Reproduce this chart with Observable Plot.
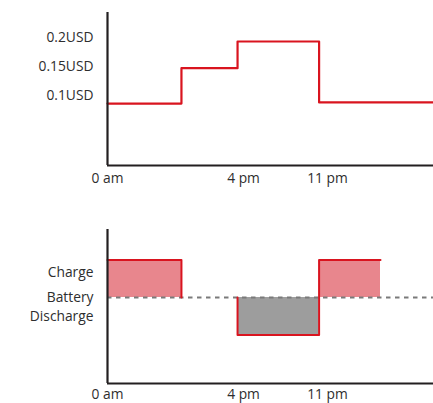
<!DOCTYPE html>
<html>
<head>
<meta charset="utf-8">
<script src="https://cdn.jsdelivr.net/npm/d3@7"></script>
<script src="https://cdn.jsdelivr.net/npm/@observablehq/plot@0.6"></script>
<style>
  html, body { margin: 0; padding: 0; background: #fff; }
  #chart svg { display: block; }
</style>
</head>
<body>
<div id="chart"></div>
<script>
// Time axis (hours of day, schematic)
const timeTicks = [0, 16, 23];
const timeLabels = ["0 am", "4 pm", "11 pm"];

// Electricity price (step line)
const priceTime = [0, 8.7, 15.3, 22.3, 24];
const priceValue = [0.086, 0.147, 0.193, 0.088, 0.088];
const priceTicks = [0.1, 0.15, 0.2];
const priceLabels = ["0.1USD", "0.15USD", "0.2USD"];

// Battery schedule
const battStart = [0, 15.3, 22.3];
const battEnd = [8.7, 22.3, 23.5];
const battLevel = [1, -1, 1];
const battTicks = [0.65, 0, -0.5];
const battLabels = ["Charge", "Battery", "Discharge"];

const RED = "#d9141f";
const PINK = "#e8868d";
const GRAY = "#9d9d9d";
const AXIS = "#231f20";

const xOpts = {
  type: "linear",
  domain: [0, 16, 23, 24],
  range: [107, 243, 327, 433],
  ticks: timeTicks,
  tickFormat: d => timeLabels[timeTicks.indexOf(d)],
  tickSize: 0,
  label: null
};
const chartStyle = {fontFamily: "'Open Sans', sans-serif", fontSize: "13.8px", color: "#2e2e2e", background: "#fff"};

// Top chart
const price = priceTime.map((t, i) => ({t, v: priceValue[i]}));
const yTopDomain = [-0.0207, 0.243];
const priceChart = Plot.plot({
  width: 433, height: 200,
  marginLeft: 107, marginRight: 0, marginTop: 12, marginBottom: 35,
  style: chartStyle,
  x: {...xOpts, tickPadding: 8},
  y: {domain: yTopDomain, ticks: priceTicks, tickFormat: d => priceLabels[priceTicks.indexOf(d)], tickSize: 0, tickPadding: 14, label: null},
  marks: [
    Plot.line(price, {x: "t", y: "v", curve: "step-after", stroke: RED, strokeWidth: 2.2}),
    Plot.ruleX([0], {stroke: AXIS, strokeWidth: 2.2}),
    Plot.ruleY([yTopDomain[0]], {stroke: AXIS, strokeWidth: 2.2})
  ]
});

// Bottom chart
const bars = battStart.map((s, i) => ({x1: s, x2: battEnd[i], level: battLevel[i]}));
const outline = [];
outline.push({x: bars[0].x1, y: bars[0].level, g: 0}, {x: bars[0].x2, y: bars[0].level, g: 0}, {x: bars[0].x2, y: 0, g: 0});
outline.push({x: bars[1].x1, y: 0, g: 1});
for (let i = 1; i < bars.length; i++) {
  outline.push({x: bars[i].x1, y: bars[i].level, g: 1}, {x: bars[i].x2, y: bars[i].level, g: 1});
}
const yBotDomain = [-2.29, 1.81];
const batteryChart = Plot.plot({
  width: 433, height: 203,
  marginLeft: 107, marginRight: 0, marginTop: 29, marginBottom: 20,
  style: chartStyle,
  x: {...xOpts, tickPadding: 6},
  y: {domain: yBotDomain, ticks: battTicks, tickFormat: d => battLabels[battTicks.indexOf(d)], tickSize: 0, tickPadding: 14, label: null},
  marks: [
    Plot.rect(bars, {x1: "x1", x2: "x2", y1: 0, y2: "level", fill: d => d.level > 0 ? PINK : GRAY}),
    Plot.ruleY([0], {stroke: "#7a7a7a", strokeWidth: 2.2, strokeDasharray: "4.5,4.5"}),
    Plot.line(outline, {x: "x", y: "y", z: "g", stroke: RED, strokeWidth: 2}),
    Plot.ruleX([0], {stroke: AXIS, strokeWidth: 2.2}),
    Plot.ruleY([yBotDomain[0]], {stroke: AXIS, strokeWidth: 2.2})
  ]
});

document.getElementById("chart").append(priceChart, batteryChart);
</script>
</body>
</html>
